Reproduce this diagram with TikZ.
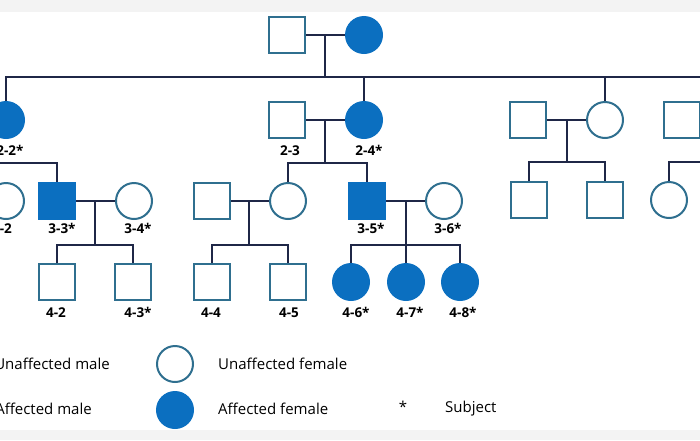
\documentclass[tikz,border=0pt]{standalone}
\usepackage{fontspec}
\setmainfont{Open Sans}
\definecolor{affblue}{HTML}{0B6FC0}
\definecolor{edgeblue}{HTML}{2F6F8F}
\definecolor{kinnavy}{HTML}{1F2747}
\definecolor{bandgray}{HTML}{F3F3F3}
\tikzset{
  male/.style={rectangle, draw=edgeblue, line width=2pt, fill=white, minimum size=36pt, inner sep=0pt},
  female/.style={male, circle},
  affmale/.style={male, draw=affblue, fill=affblue},
  afffemale/.style={female, draw=affblue, fill=affblue},
  tag/.style={font=\bfseries\fontsize{13.5}{14}\selectfont, inner sep=0pt, anchor=base},
  key/.style={font=\fontsize{15}{16}\selectfont, inner sep=0pt},
  kin/.style={draw=kinnavy, line width=2.4pt}
}

\begin{document}
\begin{tikzpicture}[x=1pt,y=-1pt]
\useasboundingbox (0,0) rectangle (700,440);
\clip (0,0) rectangle (700,440);
\fill[bandgray] (0,0) rectangle (700,12);
\fill[bandgray] (0,430) rectangle (700,440);

% generation I
\node[male] (I1) at (287,35) {};
\node[afffemale] (I2) at (364,35) {};

% generation II
\node[afffemale] (II2) at (6,120) {};
\node[male] (II3) at (287,120) {};
\node[afffemale] (II4) at (364,120) {};
\node[male] (II5) at (528,120) {};
\node[female] (II6) at (605,120) {};
\node[male] (II7) at (682,120) {};

% generation III
\node[female] (III2) at (6,201) {};
\node[affmale] (III3) at (57,201) {};
\node[female] (III4) at (134,201) {};
\node[male] (IIIa) at (212,201) {};
\node[female] (IIIb) at (288,201) {};
\node[affmale] (III5) at (367,201) {};
\node[female] (III6) at (444,201) {};
\node[male] (IIIc) at (529,200) {};
\node[male] (IIId) at (605,200) {};
\node[female] (IIIe) at (669,200) {};

% generation IV
\node[male] (IV2) at (57,282) {};
\node[male] (IV3) at (133,282) {};
\node[male] (IV4) at (212,282) {};
\node[male] (IV5) at (288,282) {};
\node[afffemale] (IV6) at (351,282) {};
\node[afffemale] (IV7) at (406,282) {};
\node[afffemale] (IV8) at (460,282) {};

% labels
\node[tag] (tII2) at (10,155) {2-2*};
\node[tag] (tII3) at (290,155) {2-3};
\node[tag] (tII4) at (369,155) {2-4*};
\node[tag] (tIII2) at (2,233) {3-2};
\node[tag] (tIII3) at (62,233) {3-3*};
\node[tag] (tIII4) at (138,233) {3-4*};
\node[tag] (tIII5) at (371,233) {3-5*};
\node[tag] (tIII6) at (448,233) {3-6*};
\node[tag] (tIV2) at (56,317) {4-2};
\node[tag] (tIV3) at (138,317) {4-3*};
\node[tag] (tIV4) at (211,317) {4-4};
\node[tag] (tIV5) at (289,317) {4-5};
\node[tag] (tIV6) at (356,317) {4-6*};
\node[tag] (tIV7) at (410,317) {4-7*};
\node[tag] (tIV8) at (463,317) {4-8*};

% couples and sibships
\coordinate (m1) at (325,35);
\coordinate (s1) at (325,77);
\coordinate (e1) at (700,77);
\coordinate (m2) at (325,120);
\coordinate (s2) at (325,163);
\coordinate (m3) at (567,120);
\coordinate (s3) at (567,162);
\coordinate (e3) at (700,162);
\coordinate (e5) at (0,163);
\coordinate (m6) at (95,201);
\coordinate (s6) at (95,245);
\coordinate (m7) at (249,201);
\coordinate (s7) at (249,245);
\coordinate (m8) at (406,201);
\coordinate (s8) at (406,245);

\draw[kin] (I1) -- (I2);
\draw[kin] (m1) -- (s1);
\draw[kin] (II2) -- (II2 |- s1) -- (e1);
\draw[kin] (II4 |- s1) -- (II4);
\draw[kin] (II6 |- s1) -- (II6);

\draw[kin] (II3) -- (II4);
\draw[kin] (m2) -- (s2);
\draw[kin] (IIIb) -- (IIIb |- s2) -- (III5 |- s2) -- (III5);

\draw[kin] (II5) -- (II6);
\draw[kin] (m3) -- (s3);
\draw[kin] (IIIc) -- (IIIc |- s3) -- (IIId |- s3) -- (IIId);
\draw[kin] (IIIe) -- (IIIe |- e3) -- (e3);

\draw[kin] (e5) -- (III3 |- e5) -- (III3);
\draw[kin] (III3) -- (III4);
\draw[kin] (m6) -- (s6);
\draw[kin] (IV2) -- (IV2 |- s6) -- (IV3 |- s6) -- (IV3);

\draw[kin] (IIIa) -- (IIIb);
\draw[kin] (m7) -- (s7);
\draw[kin] (IV4) -- (IV4 |- s7) -- (IV5 |- s7) -- (IV5);

\draw[kin] (III5) -- (III6);
\draw[kin] (m8) -- (IV7);
\draw[kin] (IV6) -- (IV6 |- s8) -- (IV8 |- s8) -- (IV8);

% legend
\node[key, anchor=base east] (kUm) at (110,369) {Unaffected male};
\node[key, anchor=base east] (kAm) at (92,414) {Affected male};
\node[female] (kUf) at (175,364) {};
\node[afffemale] (kAf) at (175,410) {};
\node[key, anchor=base west] (tUf) at (218,369) {Unaffected female};
\node[key, anchor=base west] (tAf) at (218,414) {Affected female};
\node[key] (kS) at (403,407) {*};
\node[key, anchor=base west] (tS) at (445,412) {Subject};
\end{tikzpicture}
\end{document}
